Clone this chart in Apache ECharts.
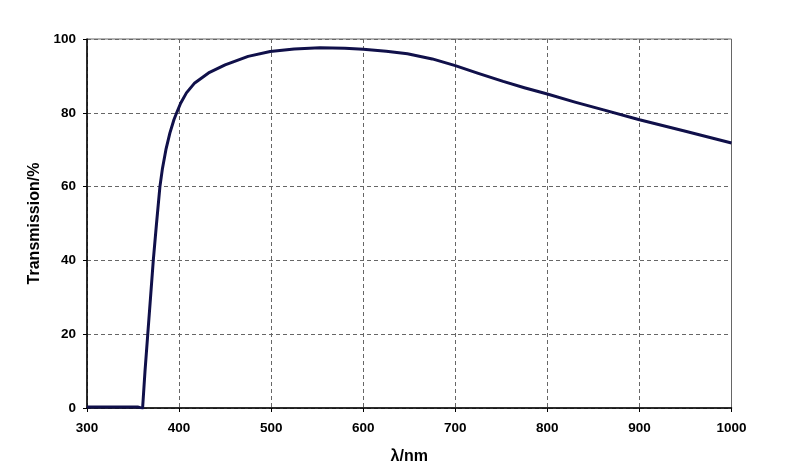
<!DOCTYPE html>
<html>
<head>
<meta charset="utf-8">
<script src="https://cdn.jsdelivr.net/npm/echarts@6/dist/echarts.min.js"></script>
<style>html,body{margin:0;padding:0;background:#fff}#c{width:800px;height:474px}</style>
</head>
<body>
<div id="c"></div>
<script>
var wavelength = [300, 320, 340, 355, 358, 360.4, 363, 366, 369, 372, 375.5, 379.2, 382, 385.7, 390, 394.5, 397.4, 401.7, 408, 417, 432, 450, 475, 499, 525, 553, 580, 600, 625, 648, 675, 700, 725, 752, 775, 800, 830, 861, 900, 950, 1000];
var transmission = [0.3, 0.3, 0.3, 0.3, 0.1, 0, 10, 20, 30, 40, 50, 60, 65, 70, 74.5, 78.2, 80, 82.6, 85.4, 88.1, 90.8, 93, 95.3, 96.6, 97.3, 97.6, 97.5, 97.2, 96.7, 96, 94.6, 92.8, 90.7, 88.5, 86.8, 85.1, 82.9, 80.8, 78.1, 75, 71.8];
var xTicks = [300, 400, 500, 600, 700, 800, 900, 1000];
var yTicks = [0, 20, 40, 60, 80, 100];

var pts = wavelength.map(function (w, i) { return [w, transmission[i]]; });
var font = '"Liberation Sans", Arial, sans-serif';
var chart = echarts.init(document.getElementById('c'), null, {renderer: 'canvas'});
chart.setOption({
  animation: false,
  backgroundColor: '#fff',
  grid: {left: 87, right: 68.5, top: 39, bottom: 66, show: true, borderColor: '#666', borderWidth: 1, backgroundColor: 'transparent'},
  xAxis: {
    type: 'value', min: xTicks[0], max: xTicks[xTicks.length - 1], interval: 100,
    name: 'λ/nm', nameLocation: 'middle', nameGap: 41,
    nameTextStyle: {fontFamily: font, fontWeight: 'bold', fontSize: 16, color: '#000'},
    axisLine: {show: true, lineStyle: {color: '#000', width: 1.5}},
    axisTick: {show: true, inside: false, length: 4, lineStyle: {color: '#000'}},
    axisLabel: {fontFamily: font, fontWeight: 'bold', fontSize: 13.5, color: '#000', margin: 13,
      formatter: function (v) { return String(v); }},
    splitLine: {show: true, lineStyle: {color: '#666', type: [4, 3], width: 1}}
  },
  yAxis: {
    type: 'value', min: yTicks[0], max: yTicks[yTicks.length - 1], interval: 20,
    name: 'Transmission/%', nameLocation: 'middle', nameGap: 42, nameRotate: 90,
    nameTextStyle: {fontFamily: font, fontWeight: 'bold', fontSize: 16, color: '#000'},
    axisLine: {show: true, lineStyle: {color: '#000', width: 1.5}},
    axisTick: {show: true, inside: false, length: 4, lineStyle: {color: '#000'}},
    axisLabel: {fontFamily: font, fontWeight: 'bold', fontSize: 13.5, color: '#000', margin: 11},
    splitLine: {show: true, lineStyle: {color: '#666', type: [4, 3], width: 1}}
  },
  series: [{
    type: 'line', data: pts, smooth: false, showSymbol: false, clip: true,
    lineStyle: {color: '#10104a', width: 3, join: 'round'}
  }]
});
</script>
</body>
</html>
